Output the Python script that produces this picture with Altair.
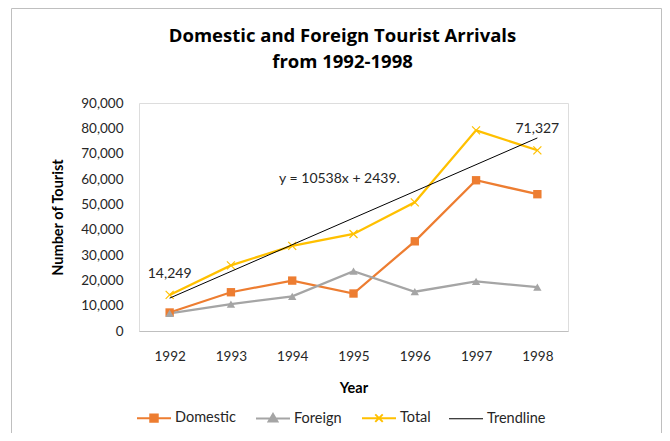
import altair as alt
import pandas as pd

years = ["1992", "1993", "1994", "1995", "1996", "1997", "1998"]
domestic = [7300, 15300, 19900, 14800, 35400, 59500, 54000]
foreign = [6949, 10600, 13700, 23600, 15500, 19600, 17327]
total = [14249, 25900, 33600, 38300, 50800, 79200, 71327]
trend_years = ["1992", "1998"]
trend_values = [12977, 76205]
series_names = ["Domestic", "Foreign", "Total", "Trendline"]
series_colors = ["#ED7D31", "#A5A5A5", "#FFC000", "#000000"]
label_years = ["1992", "1998"]
equation = "y = 10538x + 2439."
eq_year = "1995"
eq_value = 60000
y_ticks = [0, 10000, 20000, 30000, 40000, 50000, 60000, 70000, 80000, 90000]

rows = []
for name, vals in [("Domestic", domestic), ("Foreign", foreign), ("Total", total)]:
    for yr, v in zip(years, vals):
        rows.append({"year": yr, "value": v, "series": name})
df = pd.DataFrame(rows)
trend_df = pd.DataFrame({"year": trend_years, "value": trend_values, "series": ["Trendline"] * len(trend_years)})
lab_df = df[(df["series"] == "Total") & (df["year"].isin(label_years))]
eq_df = pd.DataFrame({"year": [eq_year], "value": [eq_value], "text": [equation]})

FONT = "Lato"
TXT = "#262626"

x_enc = alt.X("year:O", scale=alt.Scale(domain=years),
              axis=alt.Axis(title="Year", labelAngle=0, ticks=False, tickSize=0, domainColor="#BFBFBF",
                            labelPadding=18, titlePadding=19, labelFont=FONT, labelFontSize=13.5,
                            labelColor=TXT, titleFont=FONT, titleFontSize=14.5, titleFontWeight="bold",
                            titleColor="black", grid=False))
y_enc = alt.Y("value:Q", scale=alt.Scale(domain=[0, 90000], nice=False),
              axis=alt.Axis(title="Number of Tourist", values=y_ticks, format=",.0f", ticks=False, tickSize=0,
                            domain=False, grid=False, labelPadding=16, titlePadding=15, labelFont=FONT,
                            labelFontSize=13.5, labelColor=TXT, titleFont=FONT, titleFontSize=14.5,
                            titleFontWeight="bold", titleColor="black"))

sym_expr = ("(datum.value == 'Domestic' ? 'M-1,0H1M-0.22,-0.22H0.22V0.22H-0.22Z' : "
            "datum.value == 'Foreign' ? 'M-1,0H1M0,-0.27L0.26,0.17H-0.26Z' : "
            "datum.value == 'Total' ? 'M-1,0H1M-0.22,-0.22L0.22,0.22M-0.22,0.22L0.22,-0.22' : 'M-1,0H1')")
fill_expr = ("(datum.value == 'Domestic' ? '#ED7D31' : datum.value == 'Foreign' ? '#A5A5A5' : 'transparent')")
stroke_expr = ("(datum.value == 'Domestic' ? '#ED7D31' : datum.value == 'Foreign' ? '#A5A5A5' : "
               "datum.value == 'Total' ? '#FFC000' : '#000000')")
sw_expr = "(datum.value == 'Trendline' ? 1 : 2)"

leg = alt.Legend(title=None, orient="none", legendX=-3, legendY=297, direction="horizontal", columns=4,
                 columnPadding=16, labelOffset=3, symbolSize=1156,
                 symbolType={"expr": sym_expr}, symbolFillColor={"expr": fill_expr},
                 symbolStrokeColor={"expr": stroke_expr}, symbolStrokeWidth={"expr": sw_expr},
                 labelFont=FONT, labelFontSize=14.5, labelColor=TXT)

color_enc = alt.Color("series:N", scale=alt.Scale(domain=series_names, range=series_colors), legend=leg)

border_data = alt.Data(values=[{"k": 1}])
left_rule = alt.Chart(border_data).mark_rule(color="#BFBFBF", strokeWidth=1).encode(
    x=alt.value(-127.5), y=alt.value(-94.5), y2=alt.value(330))
right_rule = alt.Chart(border_data).mark_rule(color="#BFBFBF", strokeWidth=1).encode(
    x=alt.value(522.5), y=alt.value(-94.5), y2=alt.value(330))
top_rule = alt.Chart(border_data).mark_rule(color="#BFBFBF", strokeWidth=1).encode(
    x=alt.value(-127.5), x2=alt.value(522.5), y=alt.value(-94.5))

lines = alt.Chart(df).mark_line(strokeWidth=2.25).encode(x=x_enc, y=y_enc, color=color_enc)

pts_fill = alt.Chart(df).transform_filter(
    alt.FieldOneOfPredicate(field="series", oneOf=["Domestic", "Foreign"])
).mark_point(filled=True, size=70, opacity=1).encode(
    x=x_enc, y=y_enc, color=color_enc,
    shape=alt.Shape("series:N", scale=alt.Scale(domain=["Domestic", "Foreign"], range=["square", "triangle-up"]),
                    legend=None))

pts_total = alt.Chart(df).transform_filter(
    alt.FieldEqualPredicate(field="series", equal="Total")
).mark_point(shape="M-1,-1L1,1M-1,1L1,-1", filled=False, size=64, strokeWidth=1.2, opacity=1).encode(
    x=x_enc, y=y_enc, color=color_enc)

trend = alt.Chart(trend_df).mark_line(strokeWidth=1).encode(x=x_enc, y=y_enc, color=color_enc)

labels = alt.Chart(lab_df).mark_text(dy=-21, font=FONT, fontSize=14, color=TXT).encode(
    x=x_enc, y=y_enc, text=alt.Text("value:Q", format=","))

eq_text = alt.Chart(eq_df).mark_text(dx=-14, font=FONT, fontSize=14, color=TXT).encode(
    x=x_enc, y=y_enc, text="text:N")

chart = alt.layer(left_rule, right_rule, top_rule, lines, pts_fill, pts_total, trend, labels, eq_text).properties(
    width=429, height=228,
    padding={"left": 131, "top": 95, "right": 94, "bottom": 102},
    autosize=alt.AutoSizeParams(type="none"),
    title=alt.TitleParams(text=["Domestic and Foreign Tourist Arrivals", "from 1992-1998"],
                          font="Open Sans", fontSize=18.5, fontWeight="bold", color="black",
                          anchor="middle", frame="group", dx=-11, offset=-63, lineHeight=26)
).resolve_scale(shape="independent").configure_view(stroke=None).configure(font=FONT, background="white")

chart.save("out.html", embed_options={"renderer": "svg", "actions": False})
